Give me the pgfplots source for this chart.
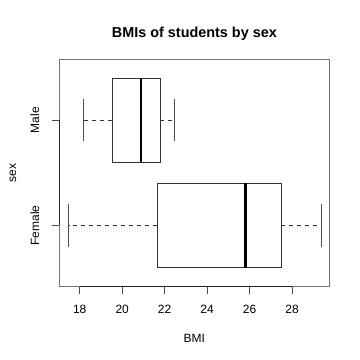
\documentclass[border=0pt]{standalone}
\usepackage{fontspec}
\setmainfont{Liberation Sans}
\usepackage{pgfplots}
\pgfplotsset{compat=1.18}
\usepgfplotslibrary{statistics}
\begin{document}
\begin{tikzpicture}[x=1pt,y=1pt]
\path[use as bounding box] (0,0) rectangle (360,360);
\begin{axis}[
  at={(59.04pt,73.44pt)}, anchor=south west,
  scale only axis, width=270.72pt, height=227.52pt,
  xmin=17.028, xmax=29.772, ymin=0.42, ymax=2.58,
  axis line style={line width=0.75pt, black!55},
  xtick={18,20,22,24,26,28},
  ytick={1,2}, yticklabels={Female,Male},
  tick align=outside, major tick length=7.2pt,
  tick style={line width=0.75pt, black!70},
  xtick pos=bottom, ytick pos=left,
  /pgf/number format/assume math mode=true,
  tick label style={font=\fontsize{12}{14}\selectfont},
  xticklabel style={anchor=base, yshift=-20.2pt},
  yticklabel style={rotate=90, anchor=base, yshift=12.7pt},
  title={\bfseries BMIs of students by sex},
  title style={font=\fontsize{14.4}{17}\selectfont, at={(axis description cs:0.5,1)}, anchor=base, yshift=16pt},
  xlabel={BMI}, ylabel={sex},
  label style={font=\fontsize{12}{14}\selectfont},
  xlabel style={at={(axis description cs:0.5,0)}, anchor=base, yshift=-56.1pt},
  ylabel style={at={(axis description cs:0,0.5)}, anchor=base, yshift=43pt},
  boxplot/draw direction=x,
  boxplot/box extend=0.8,
  boxplot/whisker extend=0.4,
  boxplot/every median/.style={line width=2.25pt, black},
  boxplot/draw/lower whisker/.code={
    \draw[line width=0.75pt, dash pattern=on 4pt off 4pt] (boxplot cs:\pgfplotsboxplotvalue{lower quartile}) -- (boxplot cs:\pgfplotsboxplotvalue{lower whisker});
    \draw[line width=0.75pt, black!70] (boxplot whisker cs:\pgfplotsboxplotvalue{lower whisker},0) -- (boxplot whisker cs:\pgfplotsboxplotvalue{lower whisker},1);
  },
  boxplot/draw/upper whisker/.code={
    \draw[line width=0.75pt, dash pattern=on 4pt off 4pt] (boxplot cs:\pgfplotsboxplotvalue{upper quartile}) -- (boxplot cs:\pgfplotsboxplotvalue{upper whisker});
    \draw[line width=0.75pt, black!70] (boxplot whisker cs:\pgfplotsboxplotvalue{upper whisker},0) -- (boxplot whisker cs:\pgfplotsboxplotvalue{upper whisker},1);
  },
]
\addplot[black!80, line width=0.75pt, boxplot prepared={
  lower whisker=17.48, lower quartile=21.64, median=25.81,
  upper quartile=27.5, upper whisker=29.36, draw position=1}]
  coordinates {};
\addplot[black!80, line width=0.75pt, boxplot prepared={
  lower whisker=18.16, lower quartile=19.54, median=20.9,
  upper quartile=21.8, upper whisker=22.47, draw position=2}]
  coordinates {};
\addplot[black!85, line width=0.75pt, no marks] coordinates {(17.028,1) (17.028,2)};
\addplot[black!85, line width=0.75pt, no marks] coordinates {(18,0.42) (28,0.42)};
\end{axis}
\end{tikzpicture}
\end{document}
